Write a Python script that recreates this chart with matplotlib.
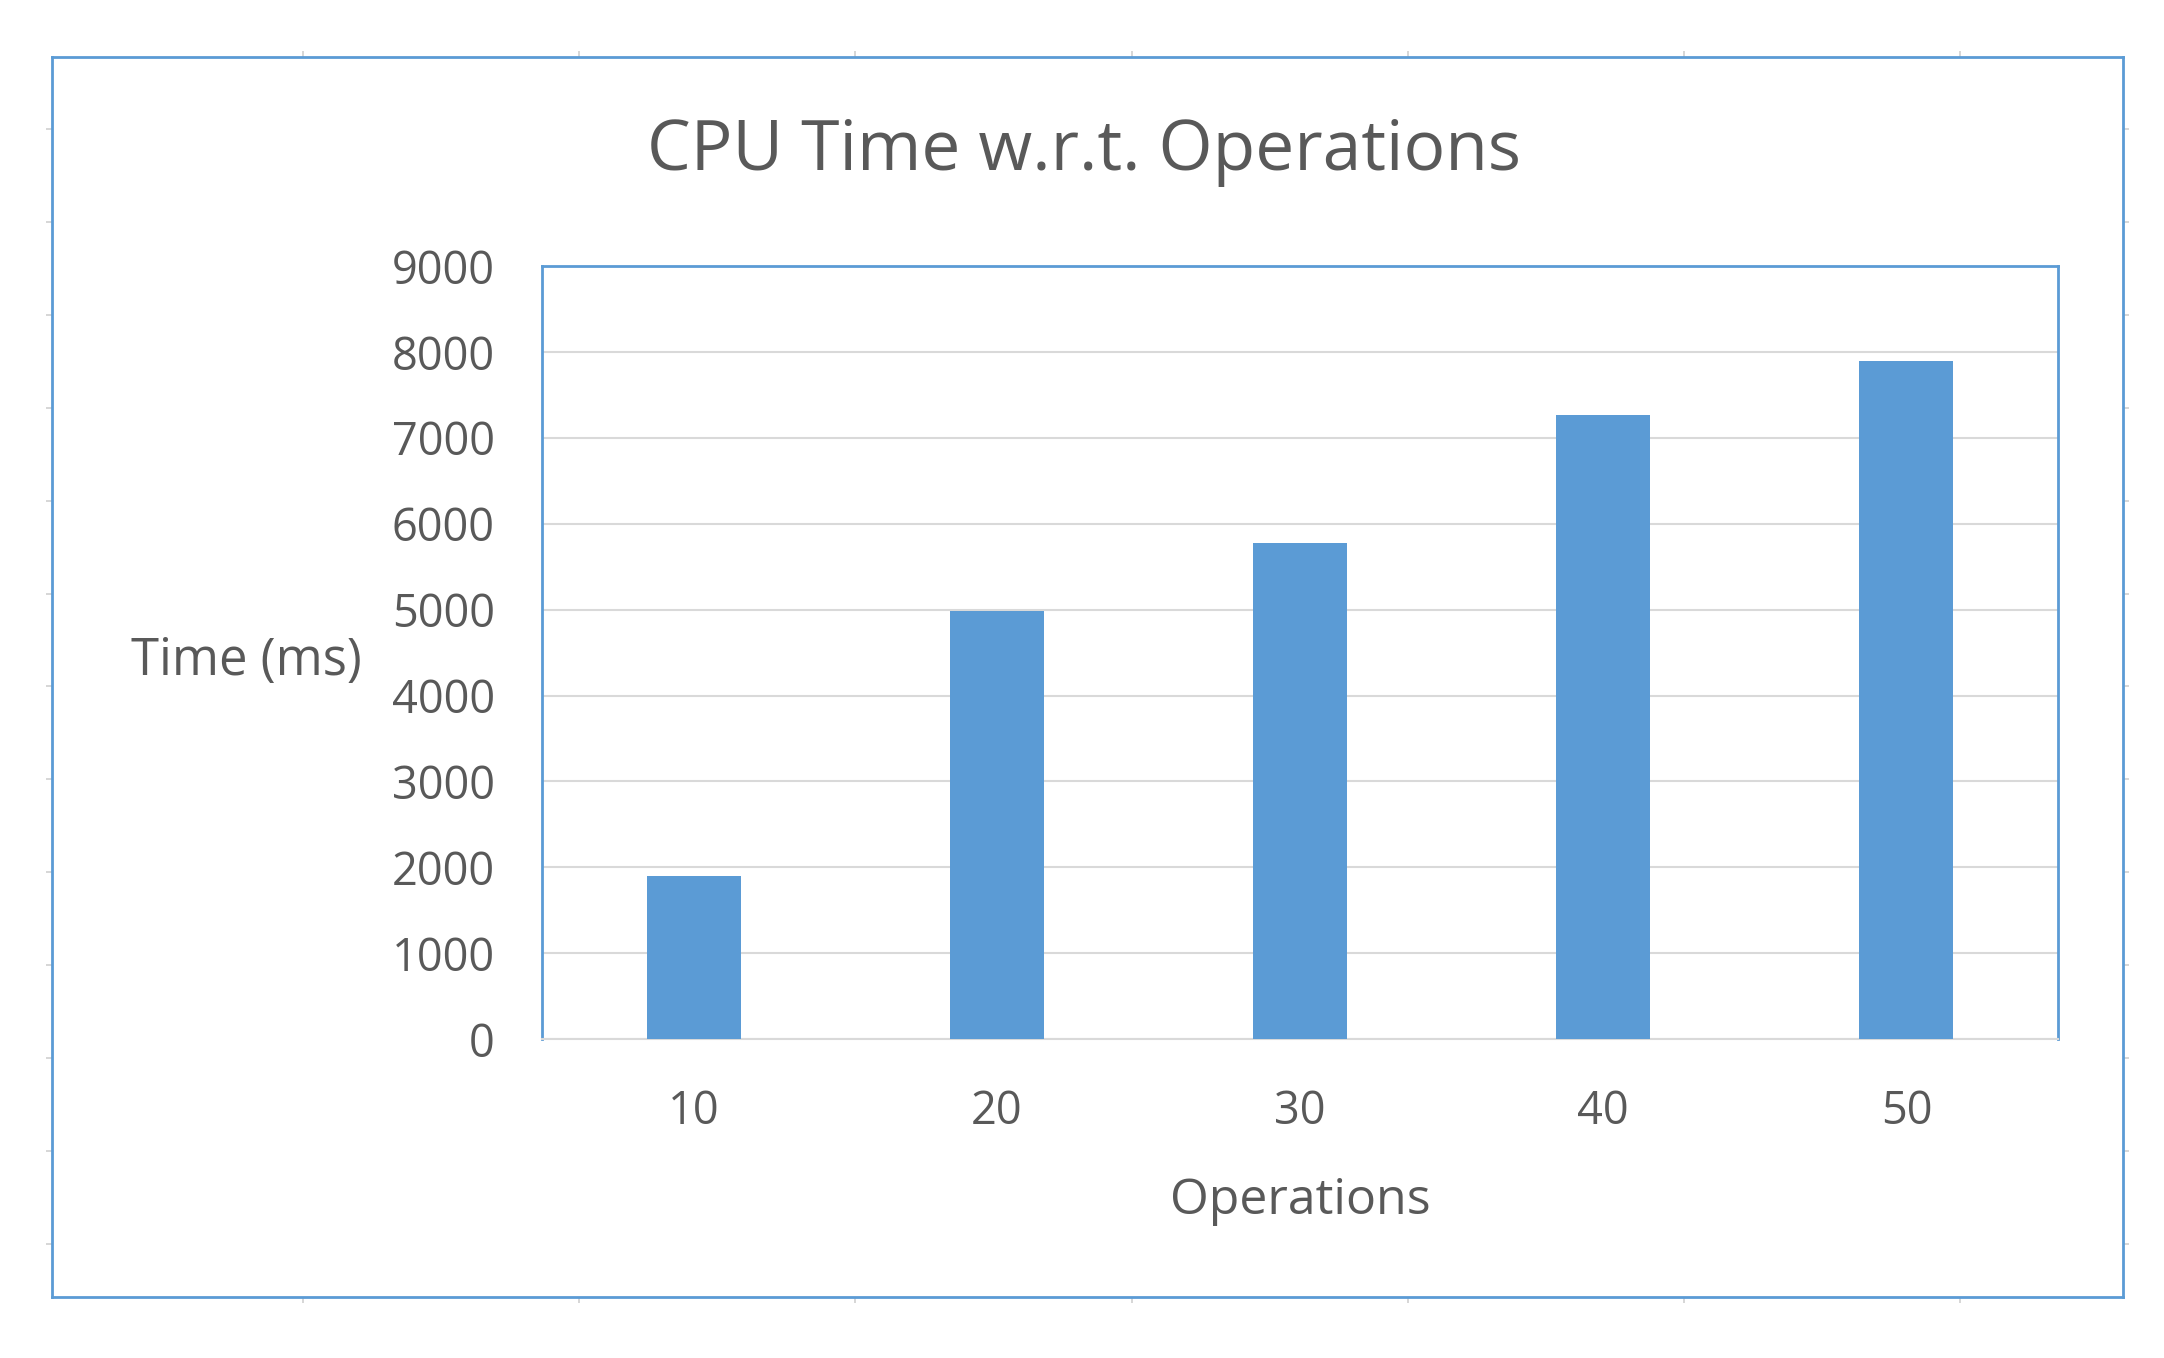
import matplotlib
matplotlib.use("Agg")
import matplotlib.pyplot as plt
import numpy as np

# data
operations = ["10", "20", "30", "40", "50"]
cpu_time_ms = [1900, 4980, 5780, 7270, 7890]
y_ticks = [0, 1000, 2000, 3000, 4000, 5000, 6000, 7000, 8000, 9000]

blue = "#5B9BD5"
text_grey = "#595959"
grid_grey = "#D9D9D9"

plt.rcParams['font.family'] = ['Open Sans', 'DejaVu Sans']

fig = plt.figure(figsize=(21.64, 13.58), dpi=100)

# outer chart frame (with the faint sheet-grid stubs around it)
frame = fig.add_axes([0.024, 0.045, 0.957, 0.913])
frame.set_xlim(38, 1538)
frame.set_ylim(940, 41)
frame.patch.set_alpha(0)
for s in frame.spines.values():
    s.set_color(blue)
    s.set_linewidth(2.0)
frame.set_xticks(np.arange(220, 1500, 200))
frame.set_yticks(93 + 67.4 * np.arange(13))
frame.tick_params(which="both", direction="out", length=4, width=1.2,
                  color="#D0D0D0", labelbottom=False, labelleft=False,
                  top=True, right=True, bottom=True, left=True)

# plot area
ax = fig.add_axes([0.2505, 0.2349, 0.7005, 0.5691])
x = np.arange(len(operations))
ax.bar(x, cpu_time_ms, width=0.31, color=blue, zorder=3)
ax.set_xlim(-0.5, len(operations) - 0.5)
ax.set_ylim(0, 9000)
ax.set_yticks(y_ticks)
ax.set_xticks(x)
ax.set_xticklabels(operations)
ax.yaxis.grid(True, color=grid_grey, linewidth=1.5, zorder=0)
ax.set_axisbelow(True)
ax.tick_params(axis="both", length=0, labelsize=32.5, labelcolor=text_grey)
ax.tick_params(axis="y", pad=34)
ax.tick_params(axis="x", pad=36)
for side in ["left", "top", "right"]:
    ax.spines[side].set_color(blue)
    ax.spines[side].set_linewidth(2.0)
ax.spines["bottom"].set_color(grid_grey)
ax.spines["bottom"].set_linewidth(1.5)

ax.set_xlabel("Operations", fontsize=36, color=text_grey, labelpad=30)
fig.text(0.114, 0.513, "Time (ms)", fontsize=36.5, color=text_grey,
         ha="center", va="center")
fig.text(0.501, 0.888, "CPU Time w.r.t. Operations", fontsize=50,
         color=text_grey, ha="center", va="center")

fig.savefig("out.png", dpi=100, facecolor="white")
